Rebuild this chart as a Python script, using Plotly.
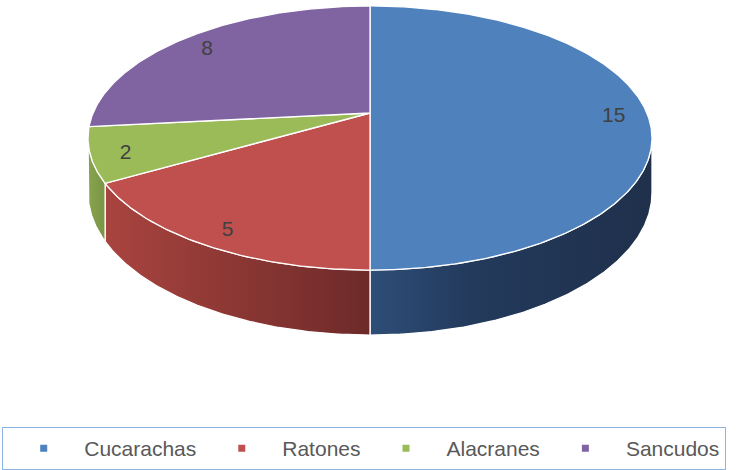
import math
import plotly.graph_objects as go

# Data
categories = ["Cucarachas", "Ratones", "Alacranes", "Sancudos"]
values = [15, 5, 2, 8]
top_colors = ["#4f81bd", "#c0504d", "#9bbb59", "#8064a2"]
side_scales = [
    [[0, "#2e4e78"], [0.35, "#233a5c"], [1, "#1f304b"]],
    [[0, "#a9443f"], [1, "#6d2a29"]],
    [[0, "#88a450"], [1, "#7a9443"]],
    [[0, "#6a5187"], [1, "#4f3c66"]],
]

# Projection of the tilted disc (perspective) onto the page
W, H = 737, 470
CX, CY = 370.0, 113.0      # projected centre of the disc
A, B = 276.9, 127.3        # horizontal / vertical scale
K = 0.1894                 # perspective strength
DEPTH = 52.7               # disc thickness
LABEL_R = 0.88


def proj(theta, r=1.0, drop=0.0):
    t = math.radians(theta)
    X, Y = r * math.sin(t), r * math.cos(t)
    w = 1 + K * Y
    return CX + A * X / w, CY - B * Y / w + drop / w


def arc(a0, a1, r=1.0, drop=0.0, step=0.5):
    n = max(2, int(abs(a1 - a0) / step) + 1)
    pts = [proj(a0 + (a1 - a0) * i / (n - 1), r, drop) for i in range(n)]
    return [p[0] for p in pts], [p[1] for p in pts]


total = sum(values)
bounds = []
acc = 0.0
for v in values:
    a0 = acc / total * 360
    acc += v
    bounds.append((a0, acc / total * 360))

# visible part of the outer wall (front half, limited by the silhouette)
vis0 = math.degrees(math.acos(-K))
vis1 = 360 - vis0

fig = go.Figure()

# outer walls
for (a0, a1), sc in zip(bounds, side_scales):
    s0, s1 = max(a0, vis0), min(a1, vis1)
    if s1 <= s0:
        continue
    tx, ty = arc(s0, s1)
    bx, by = arc(s1, s0, drop=DEPTH)
    fig.add_trace(go.Scatter(
        x=tx + bx + [tx[0]], y=ty + by + [ty[0]],
        mode="lines", fill="toself",
        fillgradient=dict(type="horizontal", colorscale=sc),
        line=dict(color="white", width=1.3),
        hoverinfo="skip", showlegend=False,
    ))

# top faces
for (a0, a1), c in zip(bounds, top_colors):
    ax, ay = arc(a0, a1)
    fig.add_trace(go.Scatter(
        x=[CX] + ax + [CX], y=[CY] + ay + [CY],
        mode="lines", fill="toself", fillcolor=c,
        line=dict(color="white", width=1.3),
        hoverinfo="skip", showlegend=False,
    ))

# value labels
lx, ly = [], []
for a0, a1 in bounds:
    x, y = proj((a0 + a1) / 2, LABEL_R)
    lx.append(x)
    ly.append(y + 4)
fig.add_trace(go.Scatter(
    x=lx, y=ly, mode="text", text=[str(v) for v in values],
    textfont=dict(family="Liberation Sans", size=21, color="#404040"),
    hoverinfo="skip", showlegend=False,
))

# legend entries
for name, c in zip(categories, top_colors):
    fig.add_trace(go.Scatter(
        x=[None], y=[None], mode="markers", name=name,
        marker=dict(symbol="square", size=7, color=c),
    ))

fig.update_layout(
    width=W, height=H,
    margin=dict(l=0, r=0, t=0, b=0),
    paper_bgcolor="white", plot_bgcolor="white",
    xaxis=dict(range=[0, W], visible=False, fixedrange=True),
    yaxis=dict(range=[H, 0], visible=False, fixedrange=True),
    showlegend=True,
    legend=dict(
        orientation="h", x=0.003, xanchor="left", y=0, yanchor="bottom",
        bgcolor="white", bordercolor="#8db3e2", borderwidth=1,
        itemwidth=71, itemclick=False, itemdoubleclick=False,
        font=dict(family="Liberation Sans", size=21, color="#595959"),
    ),
)

fig.write_html("out.html")
